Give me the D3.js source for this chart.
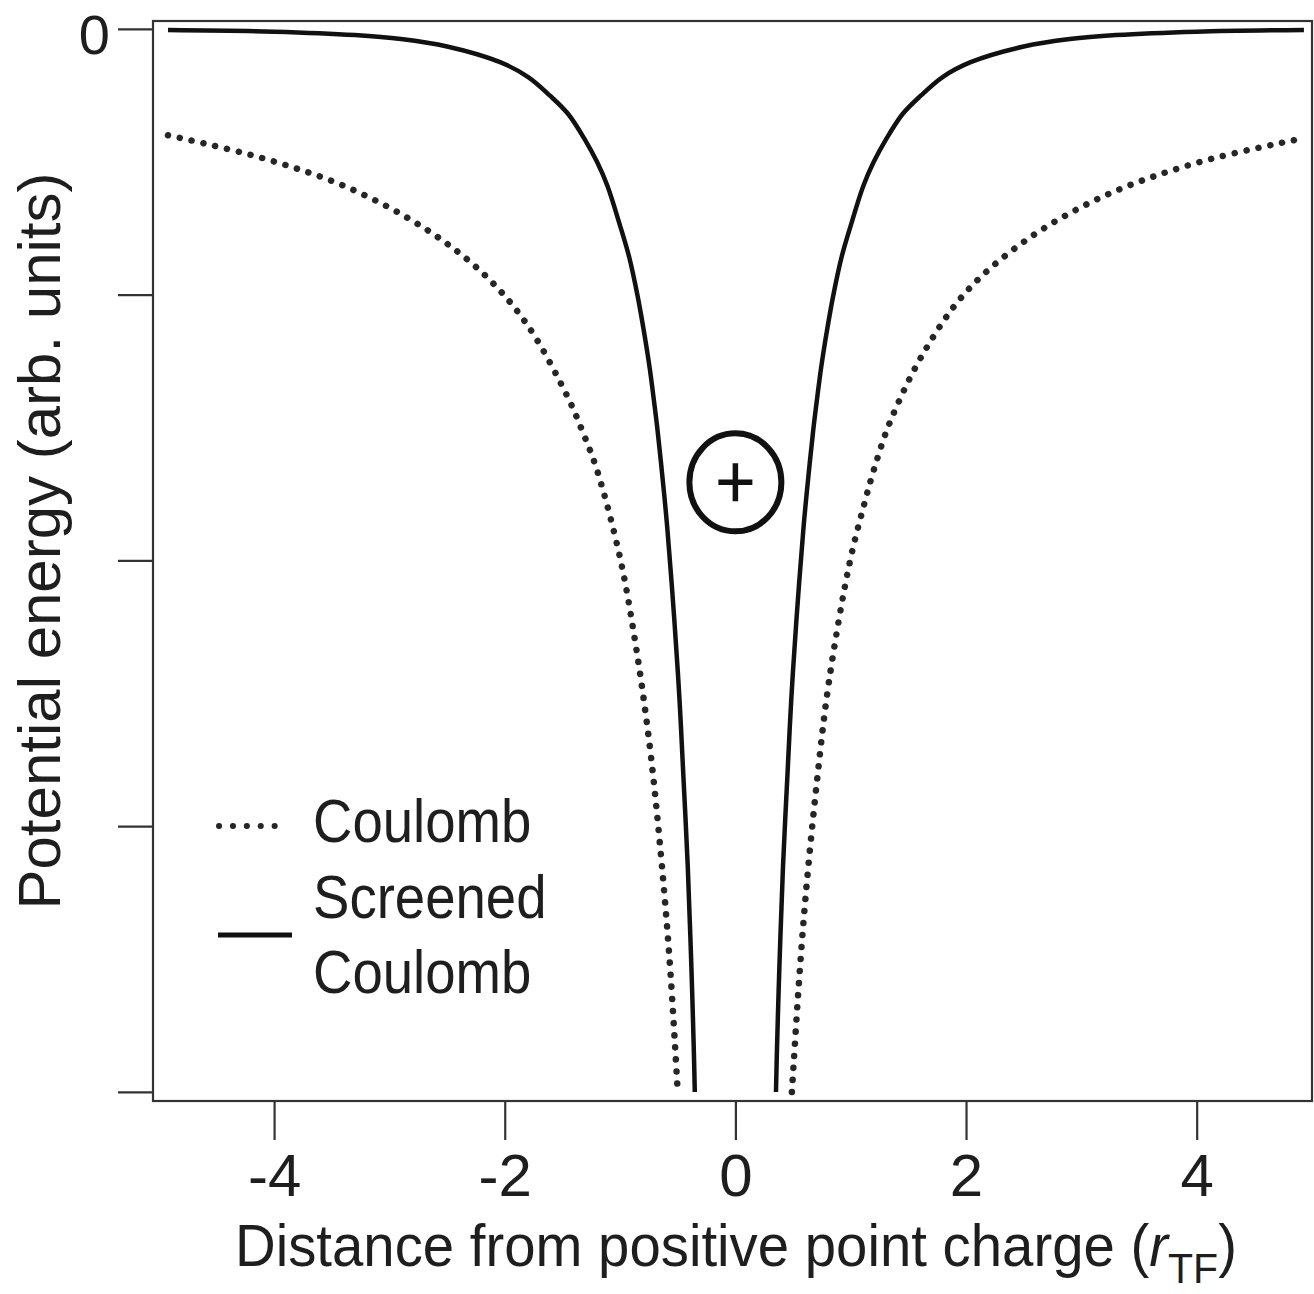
<!DOCTYPE html>
<html>
<head>
<meta charset="utf-8">
<script src="https://cdn.jsdelivr.net/npm/d3@7"></script>
<style>
body{margin:0;background:#fff}
text{font-family:"Liberation Sans",Arial,Helvetica,sans-serif;fill:#1e1e1e}
</style>
</head>
<body>
<svg id="chart"></svg>
<script>
// values (y in arbitrary units, one tick = 1)
var xTicks = [-4, -2, 0, 2, 4];
var yTicks = [0, -1, -2, -3, -4];

// plain Coulomb (dotted), null = gap at the charge
var coulombX = [-4.92, -4.10, -3.37, -2.71, -2.19, -1.81, -1.46, -1.33, -1.20, -1.00, -0.86, -0.745, -0.658, -0.571, -0.50,
                null,
                0.49, 0.554, 0.61, 0.70, 0.81, 0.99, 1.11, 1.20, 1.34, 1.63, 2.00, 2.52, 3.19, 3.99, 4.94];
var coulombY = [-0.40, -0.486, -0.595, -0.746, -0.919, -1.11, -1.38, -1.51, -1.66, -1.99, -2.33, -2.69, -3.05, -3.50, -4.00,
                null,
                -4.00, -3.57, -3.26, -2.86, -2.46, -2.01, -1.80, -1.66, -1.48, -1.22, -0.99, -0.795, -0.63, -0.505, -0.41];

// screened Coulomb (solid)
var screenedX = [-4.92, -4.0, -3.3, -2.9, -2.5, -2.04, -1.8, -1.61, -1.45, -1.30, -1.2, -1.11, -1.0, -0.92, -0.85, -0.8,
                 -0.745, -0.7, -0.675, -0.62, -0.59, -0.53, -0.485, -0.45, -0.413, -0.39, -0.375, -0.36, -0.352,
                 null,
                 0.352, 0.36, 0.375, 0.39, 0.413, 0.45, 0.485, 0.53, 0.59, 0.62, 0.675, 0.7, 0.745, 0.8, 0.85,
                 0.92, 1.0, 1.11, 1.2, 1.3, 1.45, 1.61, 1.8, 2.04, 2.5, 2.9, 3.3, 4.0, 4.93];
var screenedY = [-0.004, -0.01, -0.023, -0.038, -0.066, -0.125, -0.18, -0.25, -0.32, -0.42, -0.50, -0.59, -0.74, -0.86, -1.0, -1.12,
                 -1.27, -1.42, -1.51, -1.74, -1.88, -2.22, -2.52, -2.82, -3.15, -3.42, -3.62, -3.85, -4.0,
                 null,
                 -4.0, -3.85, -3.62, -3.42, -3.15, -2.82, -2.52, -2.22, -1.88, -1.74, -1.51, -1.42, -1.27, -1.12, -1.0,
                 -0.86, -0.74, -0.59, -0.50, -0.42, -0.32, -0.25, -0.18, -0.125, -0.066, -0.038, -0.023, -0.01, -0.004];

var chargeX = 0, chargeY = -1.706;

var legendNames = ["Coulomb", ["Screened", "Coulomb"]];

var screen = {width:1314, height:1294};
var box = {left:153, right:1312, top:21, bottom:1101};

var svg = d3.select("#chart")
    .attr("width", screen.width)
    .attr("height", screen.height);

var xScale = d3.scaleLinear().domain([-5.05, 5.0]).range([box.left, box.right]);
var yScale = d3.scaleLinear().domain([-4.034, 0.03]).range([box.bottom, box.top]);

var toPoints = function(xs, ys)
{
    return xs.map(function(x, i){ return {x:x, y:ys[i]}; });
}

var lineGen = d3.line()
    .defined(function(d){ return d.x != null; })
    .x(function(d){ return xScale(d.x); })
    .y(function(d){ return yScale(d.y); })
    .curve(d3.curveCatmullRom.alpha(0.5));

// frame
svg.append("rect")
    .attr("x", box.left).attr("y", box.top)
    .attr("width", box.right - box.left).attr("height", box.bottom - box.top)
    .attr("fill", "none").attr("stroke", "#333").attr("stroke-width", 2.2);

// y axis: only the 0 is labelled
var yAxis = svg.append("g")
    .attr("transform", "translate(" + box.left + ",0)")
    .call(d3.axisLeft(yScale).tickValues(yTicks).tickSize(35).tickPadding(8)
          .tickFormat(function(d){ return d === 0 ? "0" : ""; }));
yAxis.select(".domain").remove();
yAxis.selectAll("line").attr("stroke", "#333").attr("stroke-width", 2.2);
yAxis.selectAll("text").attr("font-size", 56).attr("dy", "0.43em")
    .attr("font-family", "Liberation Sans, Arial, sans-serif").attr("fill", "#1e1e1e");

// x axis
var xAxis = svg.append("g")
    .attr("transform", "translate(0," + box.bottom + ")")
    .call(d3.axisBottom(xScale).tickValues(xTicks).tickSize(39).tickPadding(13)
          .tickFormat(function(d){ return String(d); }));
xAxis.select(".domain").remove();
xAxis.selectAll("line").attr("stroke", "#333").attr("stroke-width", 2.2);
xAxis.selectAll("text").attr("font-size", 60)
    .attr("font-family", "Liberation Sans, Arial, sans-serif").attr("fill", "#1e1e1e");

// curves
svg.append("path")
    .datum(toPoints(coulombX, coulombY))
    .attr("d", lineGen)
    .attr("fill", "none")
    .attr("stroke", "#262626")
    .attr("stroke-width", 6.5)
    .attr("stroke-linecap", "round")
    .attr("stroke-dasharray", "0.1 12");

svg.append("path")
    .datum(toPoints(screenedX, screenedY))
    .attr("d", lineGen)
    .attr("fill", "none")
    .attr("stroke", "#111")
    .attr("stroke-width", 4.5);

// the positive point charge
svg.append("ellipse")
    .attr("cx", xScale(chargeX)).attr("cy", yScale(chargeY))
    .attr("rx", 46).attr("ry", 49)
    .attr("fill", "none").attr("stroke", "#111").attr("stroke-width", 6);
svg.append("path")
    .attr("d", "M" + (xScale(chargeX) - 17) + "," + yScale(chargeY) + "h34"
             + "M" + xScale(chargeX) + "," + (yScale(chargeY) - 19) + "v38")
    .attr("stroke", "#111").attr("stroke-width", 5.5);

// legend
var legend = svg.append("g");
legend.append("line")
    .attr("x1", 219).attr("x2", 288).attr("y1", 826).attr("y2", 826)
    .attr("stroke", "#262626").attr("stroke-width", 6)
    .attr("stroke-linecap", "round").attr("stroke-dasharray", "0.1 13.8");
legend.append("line")
    .attr("x1", 218).attr("x2", 292).attr("y1", 935).attr("y2", 935)
    .attr("stroke", "#111").attr("stroke-width", 5);

var legendText = function(str, x, y)
{
    legend.append("text")
        .attr("transform", "translate(" + x + "," + y + ") scale(0.88,1)")
        .attr("font-size", 62)
        .text(str);
}
legendText(legendNames[0], 313, 842);
legendText(legendNames[1][0], 313, 918);
legendText(legendNames[1][1], 313, 993);

// axis titles
var xTitle = svg.append("text")
    .attr("transform", "translate(235,1266) scale(0.955,1)")
    .attr("font-size", 59);
xTitle.append("tspan").text("Distance from positive point charge (");
xTitle.append("tspan").attr("font-style", "italic").text("r");
xTitle.append("tspan").attr("font-size", 43).attr("dy", 17).text("TF");
xTitle.append("tspan").attr("dy", -17).text(")");

svg.append("text")
    .attr("transform", "translate(60,541) rotate(-90)")
    .attr("text-anchor", "middle")
    .attr("font-size", 60)
    .text("Potential energy (arb. units)");
</script>
</body>
</html>
